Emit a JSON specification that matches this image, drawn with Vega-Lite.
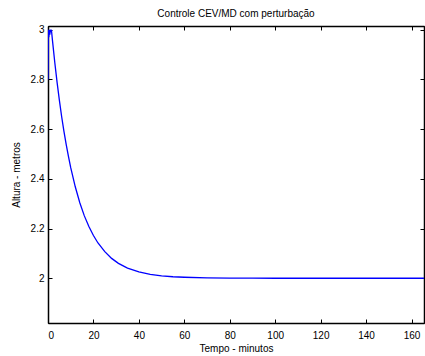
{
  "$schema": "https://vega.github.io/schema/vega-lite/v6.json",
  "width": 376,
  "height": 297,
  "autosize": "none",
  "padding": {"left": 48, "top": 26, "right": 1, "bottom": 33},
  "background": "white",
  "config": {
    "view": {"stroke": "black", "strokeWidth": 1},
    "font": "Liberation Sans",
    "axis": {"grid": false, "domainColor": "black", "tickColor": "black", "labelColor": "black", "titleColor": "black", "labelFont": "Liberation Sans", "titleFont": "Liberation Sans", "labelFontSize": 10, "titleFontSize": 10, "titleFontWeight": "normal", "tickSize": -4, "domainWidth": 1.5}
  },
  "title": {"text": "Controle CEV/MD com perturbação", "fontSize": 10, "font": "Liberation Sans", "fontWeight": "normal", "color": "black", "offset": 6},
  "data": {"values": [
    {"t": 0, "h": 2.80},
    {"t": 0.15, "h": 3.0},
    {"t": 0.35, "h": 2.97},
    {"t": 0.55, "h": 3.0},
    {"t": 0.8, "h": 2.98},
    {"t": 1.05, "h": 3.0},
    {"t": 1.3, "h": 2.99},
    {"t": 1.5, "h": 3.0},
    {"t": 2, "h": 2.954},
    {"t": 3, "h": 2.867},
    {"t": 4, "h": 2.788},
    {"t": 5, "h": 2.717},
    {"t": 6, "h": 2.651},
    {"t": 7, "h": 2.592},
    {"t": 8, "h": 2.539},
    {"t": 9, "h": 2.490},
    {"t": 10, "h": 2.445},
    {"t": 12, "h": 2.368},
    {"t": 14, "h": 2.304},
    {"t": 16, "h": 2.251},
    {"t": 18, "h": 2.208},
    {"t": 20, "h": 2.172},
    {"t": 22, "h": 2.142},
    {"t": 25, "h": 2.107},
    {"t": 28, "h": 2.080},
    {"t": 31, "h": 2.060},
    {"t": 35, "h": 2.041},
    {"t": 40, "h": 2.026},
    {"t": 45, "h": 2.016},
    {"t": 50, "h": 2.010},
    {"t": 55, "h": 2.006},
    {"t": 60, "h": 2.004},
    {"t": 70, "h": 2.0015},
    {"t": 80, "h": 2.0006},
    {"t": 90, "h": 2.0003},
    {"t": 100, "h": 2.0},
    {"t": 120, "h": 2.0},
    {"t": 140, "h": 2.0},
    {"t": 160, "h": 2.0},
    {"t": 166, "h": 2.0}
  ]},
  "layer": [
    {
      "mark": {"type": "line", "color": "#0000ff", "strokeWidth": 1.3, "clip": true},
      "encoding": {
        "x": {"field": "t", "type": "quantitative", "scale": {"domain": [0, 165.5], "nice": false}, "axis": {"title": "Tempo - minutos", "values": [0, 20, 40, 60, 80, 100, 120, 140, 160], "labelPadding": 11, "titlePadding": 3}},
        "y": {"field": "h", "type": "quantitative", "scale": {"domain": [1.82, 3.015], "nice": false, "zero": false}, "axis": {"title": "Altura - metros", "format": "~g", "values": [2, 2.2, 2.4, 2.6, 2.8, 3], "labelPadding": 8, "titlePadding": 9}}
      }
    },
    {
      "mark": {"type": "line", "opacity": 0},
      "encoding": {
        "x": {"field": "t", "type": "quantitative", "scale": {"domain": [0, 165.5], "nice": false}, "axis": {"orient": "top", "title": null, "labels": false, "values": [0, 20, 40, 60, 80, 100, 120, 140, 160]}},
        "y": {"field": "h", "type": "quantitative", "scale": {"domain": [1.82, 3.015], "nice": false, "zero": false}, "axis": {"orient": "right", "title": null, "labels": false, "values": [2, 2.2, 2.4, 2.6, 2.8, 3]}}
      }
    }
  ],
  "resolve": {"axis": {"x": "independent", "y": "independent"}}
}
